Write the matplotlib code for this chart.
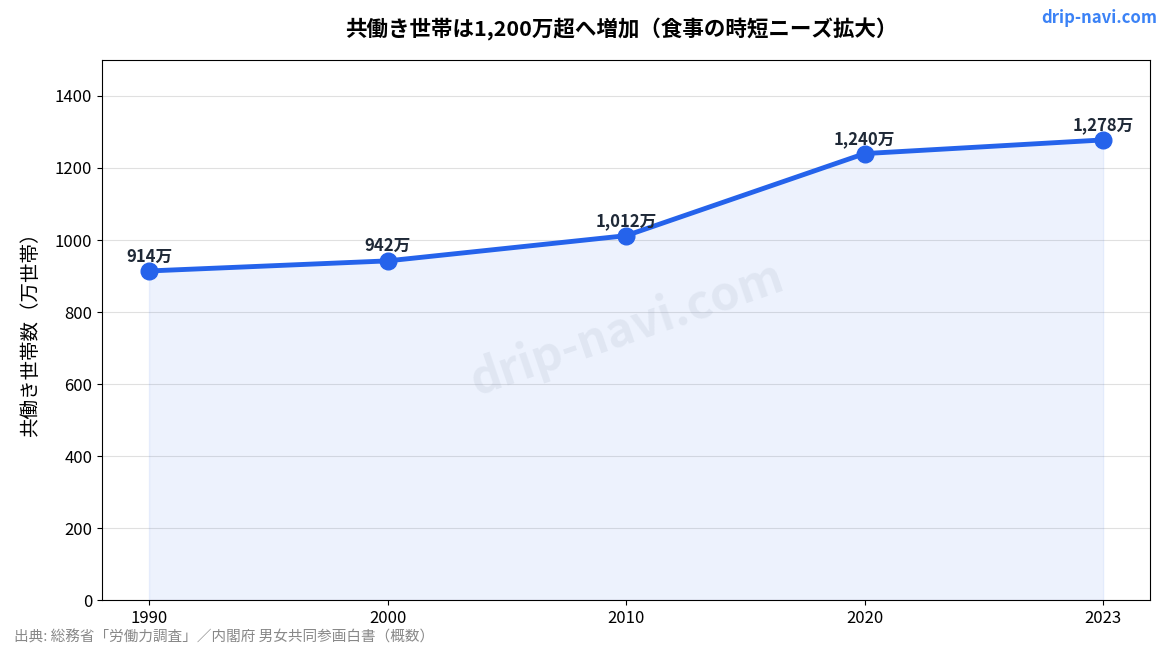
import numpy as np
import matplotlib.pyplot as plt

plt.rcParams['font.family'] = ['Noto Sans CJK JP', 'DejaVu Sans']

years = ['1990', '2000', '2010', '2020', '2023']
households = [914, 942, 1012, 1240, 1278]
labels = ['914万', '942万', '1,012万', '1,240万', '1,278万']

line_color = '#2563EB'

fig = plt.figure(figsize=(11.7, 6.5), dpi=100)
ax = fig.add_axes([0.0872, 0.0769, 0.8958, 0.8308])

x = np.arange(len(years))
ax.fill_between(x, households, color=line_color, alpha=0.08, zorder=1)
ax.plot(x, households, color=line_color, linewidth=3.5, marker='o',
        markersize=12, zorder=3)

for xi, yi, lab in zip(x, households, labels):
    ax.annotate(lab, (xi, yi), xytext=(0, 4), textcoords='offset points',
                ha='center', va='bottom', fontsize=12, fontweight='bold',
                color='#1f2937', zorder=4)

ax.set_xticks(x)
ax.set_xticklabels(years)
ax.set_xlim(-0.197, 4.197)
ax.set_ylim(0, 1500)
ax.set_yticks(range(0, 1401, 200))
ax.tick_params(labelsize=12)
ax.grid(axis='y', color='#d9d9d9', linewidth=0.8, alpha=0.8)
ax.set_axisbelow(True)
ax.set_ylabel('共働き世帯数（万世帯）', fontsize=14, labelpad=10)

fig.suptitle('共働き世帯は1,200万超へ増加（食事の時短ニーズ拡大）',
             x=0.531, y=0.954, va='center', fontsize=15.5, fontweight='bold')

fig.text(0.989, 0.972, 'drip-navi.com', ha='right', va='center',
         fontsize=12, fontweight='bold', color='#3b82f6')
fig.text(0.536, 0.495, 'drip-navi.com', ha='center', va='center',
         fontsize=34, fontweight='bold', color='#94a3b8', alpha=0.15,
         rotation=19)
fig.text(0.012, 0.02, '出典: 総務省「労働力調査」／内閣府 男女共同参画白書（概数）',
         ha='left', va='center', fontsize=10.5, color='#888888')

fig.savefig('out.png', dpi=100)
